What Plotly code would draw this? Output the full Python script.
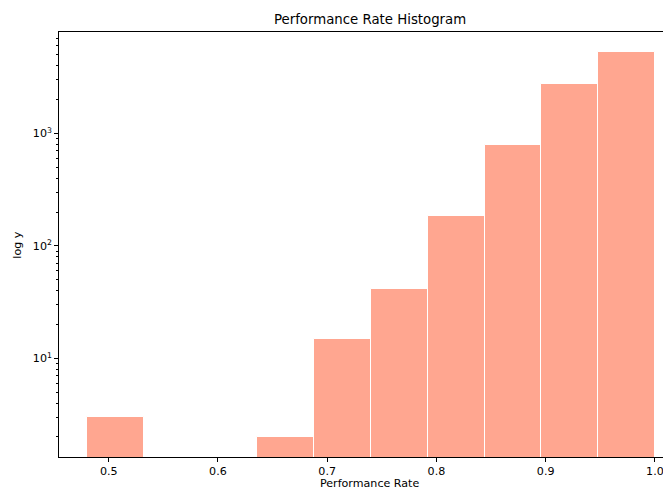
import plotly.graph_objects as go

# Data
bin_edges = [0.480, 0.532, 0.584, 0.636, 0.688, 0.740, 0.792, 0.844, 0.896, 0.948, 1.000]
counts = [3, 0, 0, 2, 15, 41, 184, 787, 2780, 5250]
x_tick_vals = [0.5, 0.6, 0.7, 0.8, 0.9, 1.0]
x_tick_text = ["0.5", "0.6", "0.7", "0.8", "0.9", "1.0"]
y_tick_vals = [10, 100, 1000]
y_tick_text = ["10<sup>1</sup>", "10<sup>2</sup>", "10<sup>3</sup>"]

centers = [(a + b) / 2 for a, b in zip(bin_edges[:-1], bin_edges[1:])]
widths = [b - a for a, b in zip(bin_edges[:-1], bin_edges[1:])]
plot_y = [c if c > 0 else None for c in counts]

minor_vals = []
for d in [1, 10, 100, 1000]:
    for m in range(2, 10):
        minor_vals.append(m * d)

FONT = "DejaVu Sans"
FS = 11.1
FT = 13.3
OFF = 8  # page body margin

# target page-coordinates of plot area
PL, PT, PB, PR = 59.3, 31.7, 457.3, 671
W, H = PR - OFF, 490 - OFF
ml, mt = PL - OFF, PT - OFF
mb = H - (PB - OFF)
pw = W - ml
ph = H - mt - mb


def px(xp):
    return (xp - OFF - ml) / pw


def py(yp):
    return 1 - (yp - OFF - mt) / ph


fig = go.Figure()
fig.add_trace(go.Bar(
    x=centers, y=plot_y, width=widths,
    marker=dict(color="#FFA690", line=dict(color="white", width=1)),
    hoverinfo="x+y",
))

fig.update_layout(
    width=W, height=H,
    margin=dict(l=ml, r=0, t=mt, b=mb, pad=0),
    paper_bgcolor="white", plot_bgcolor="white",
    showlegend=False, bargap=0,
    font=dict(family=FONT, size=FS, color="#000000"),
    xaxis=dict(
        range=[0.4545, 1.0147],
        tickvals=x_tick_vals, ticktext=x_tick_text,
        ticks="outside", ticklen=3.9, tickwidth=0.9, tickcolor="#000",
        showline=True, linecolor="#000", linewidth=0.9, mirror=True,
        showgrid=False, zeroline=False,
        tickfont=dict(family=FONT, size=FS, color="#000"),
    ),
    yaxis=dict(
        type="log",
        range=[0.1226, 3.902],
        tickvals=y_tick_vals, ticktext=y_tick_text,
        ticks="outside", ticklen=3.9, tickwidth=0.9, tickcolor="#000",
        minor=dict(tickvals=minor_vals, ticks="outside", ticklen=2.2, tickwidth=0.7, tickcolor="#000", showgrid=False),
        showline=True, linecolor="#000", linewidth=0.9, mirror=False,
        showgrid=False, zeroline=False,
        tickfont=dict(family=FONT, size=FS, color="#000"),
    ),
)

fig.add_annotation(
    text="Performance Rate Histogram",
    xref="paper", yref="paper", x=px(370), y=py(19),
    xanchor="center", yanchor="middle", showarrow=False,
    font=dict(family=FONT, size=FT, color="#000"),
)
fig.add_annotation(
    text="Performance Rate",
    xref="paper", yref="paper", x=px(370), y=py(484),
    xanchor="center", yanchor="middle", showarrow=False,
    font=dict(family=FONT, size=FS, color="#000"),
)
fig.add_annotation(
    text="log y",
    xref="paper", yref="paper", x=px(18), y=py(245),
    xanchor="center", yanchor="middle", showarrow=False, textangle=-90,
    font=dict(family=FONT, size=FS, color="#000"),
)

fig.write_html("out.html")
